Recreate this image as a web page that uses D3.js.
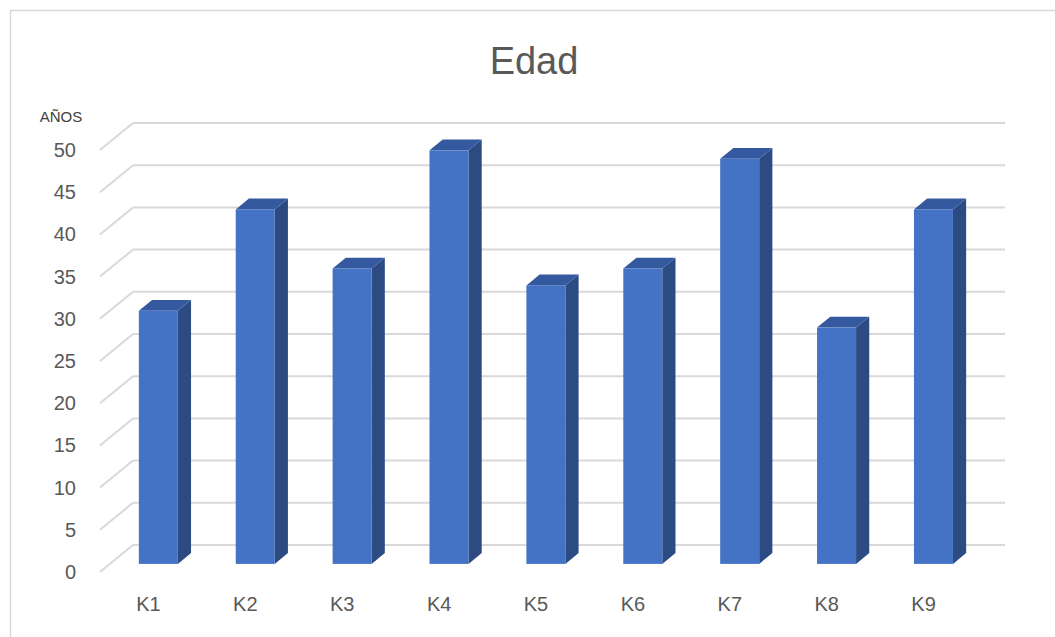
<!DOCTYPE html>
<meta charset="utf-8">
<script src="https://d3js.org/d3.v7.min.js"></script>
<style type="text/css">
body { margin: 0; background: #fff; }
.tick text { fill: #595959; font-size: 20px; font-family: "Liberation Sans", Arial, sans-serif; }
.grid line { stroke: #d9d9d9; stroke-width: 2px; }
</style>
<body></body>
<script>

// data
var categories = ["K1", "K2", "K3", "K4", "K5", "K6", "K7", "K8", "K9"];
var edad = [30, 42, 35, 49, 33, 35, 48, 28, 42];
var yTicks = [0, 5, 10, 15, 20, 25, 30, 35, 40, 45, 50];

var width = 1055, height = 637;

// depth of the 3d box (offset of back wall vs front)
var depthX = 33, depthY = -27;
var barFront = 0.3, barDepth = 0.4, barWidth = 39;

var svg = d3.select("body").append("svg")
    .attr("width", width)
    .attr("height", height);

// outer chart border (top + left visible)
svg.append("path")
    .attr("d", "M10.5," + height + "V10.5H" + width)
    .attr("fill", "none")
    .attr("stroke", "#d9d9d9")
    .attr("stroke-width", 1.5);

var xScale = d3.scaleBand()
    .domain(categories)
    .range([100, 972]);

var yScale = d3.scaleLinear()
    .domain([0, 50])
    .range([572, 150]);

// gridlines: left wall diagonal + back wall
var grid = svg.append("g").attr("class", "grid");
grid.selectAll(".side")
    .data(yTicks)
    .enter().append("line")
    .attr("x1", 100)
    .attr("y1", function(d) { return yScale(d); })
    .attr("x2", 100 + depthX)
    .attr("y2", function(d) { return yScale(d) + depthY; });
grid.selectAll(".back")
    .data(yTicks)
    .enter().append("line")
    .attr("x1", 100 + depthX)
    .attr("y1", function(d) { return yScale(d) + depthY; })
    .attr("x2", 972 + depthX)
    .attr("y2", function(d) { return yScale(d) + depthY; });

// y axis labels
var yAxis = d3.axisLeft(yScale)
    .tickValues(yTicks)
    .tickSize(0)
    .tickPadding(24);
var yAxisGroup = svg.append("g")
    .attr("transform", "translate(100,0)")
    .call(yAxis);
yAxisGroup.select(".domain").remove();

// x axis labels
var xAxis = d3.axisBottom(xScale).tickSize(0).tickPadding(25);
var xAxisGroup = svg.append("g")
    .attr("transform", "translate(0,572)")
    .call(xAxis);
xAxisGroup.select(".domain").remove();

// bars
var fx0 = depthX * barFront, fy0 = depthY * barFront;
var ddx = depthX * barDepth, ddy = depthY * barDepth;

var bars = svg.selectAll(".bar")
    .data(categories.map(function(c, i) { return {cat: c, value: edad[i]}; }))
    .enter().append("g")
    .attr("class", "bar");

function pts(arr) { return arr.map(function(p) { return p.join(","); }).join(" "); }

function corners(d) {
    var x0 = xScale(d.cat) + xScale.bandwidth() / 2 - barWidth / 2 + fx0;
    var x1 = x0 + barWidth;
    var yb = yScale(0) + fy0;
    var yt = yScale(d.value) + fy0;
    return {x0: x0, x1: x1, yb: yb, yt: yt};
}

// side face
bars.append("polygon")
    .attr("fill", "#2c4b83")
    .attr("points", function(d) {
        var c = corners(d);
        return pts([[c.x1, c.yb], [c.x1, c.yt], [c.x1 + ddx, c.yt + ddy], [c.x1 + ddx, c.yb + ddy]]);
    });

// top face
bars.append("polygon")
    .attr("fill", "#34599f")
    .attr("points", function(d) {
        var c = corners(d);
        return pts([[c.x0, c.yt], [c.x1, c.yt], [c.x1 + ddx, c.yt + ddy], [c.x0 + ddx, c.yt + ddy]]);
    });

// front face
bars.append("rect")
    .attr("fill", "#4472c4")
    .attr("x", function(d) { return corners(d).x0; })
    .attr("y", function(d) { return corners(d).yt; })
    .attr("width", barWidth)
    .attr("height", function(d) { var c = corners(d); return c.yb - c.yt; });

// title
svg.append("text")
    .attr("x", 534)
    .attr("y", 74)
    .attr("text-anchor", "middle")
    .style("font-family", "'Liberation Sans', Arial, sans-serif")
    .style("font-size", "38px")
    .style("fill", "#595959")
    .text("Edad");

// y axis unit label
svg.append("text")
    .attr("x", 61)
    .attr("y", 122)
    .attr("text-anchor", "middle")
    .style("font-family", "'Liberation Sans', Arial, sans-serif")
    .style("font-size", "15px")
    .style("fill", "#404040")
    .text("AÑOS");

</script>
